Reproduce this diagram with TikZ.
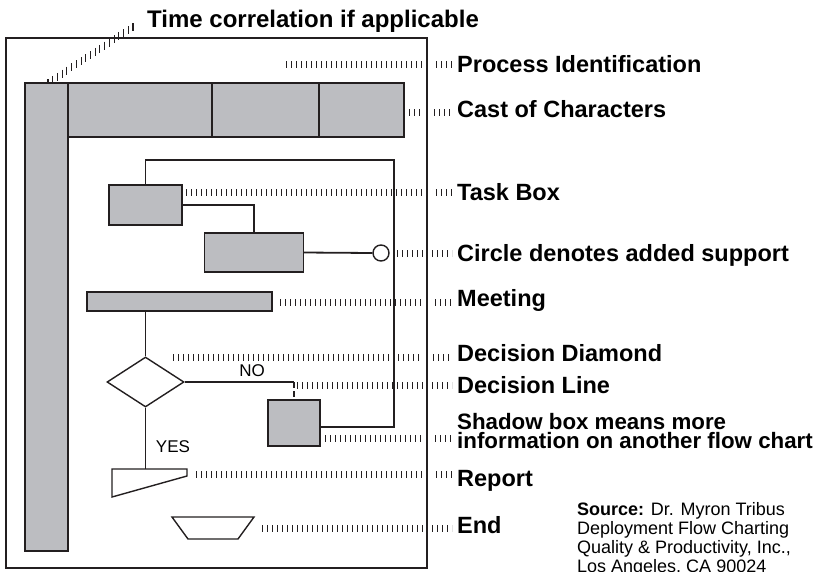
\documentclass[tikz,border=0pt]{standalone}
\usepackage{fontspec}
\setmainfont{Liberation Sans}
\usetikzlibrary{shapes.geometric}
\definecolor{boxgray}{RGB}{188,189,193}
\definecolor{ink}{RGB}{35,31,32}
\begin{document}
\begin{tikzpicture}[x=1pt, y=-1pt,
  graybox/.style={draw=ink, fill=boxgray, line width=1.4pt, inner sep=0pt, outer sep=0pt},
  conn/.style={draw=ink, line width=1.8pt},
  ticks/.style={draw=ink, line width=7pt, dash pattern=on 1.1pt off 3.9pt},
  lbl/.style={anchor=base west, inner sep=0pt, font=\fontsize{23.5}{23.5}\selectfont\bfseries},
  small/.style={inner sep=0pt, font=\fontsize{17}{17}\selectfont}]

\useasboundingbox (0,0) rectangle (817,571);

% Draw the tick leaders to the labels
\draw[ticks] (286,64) -- (452,64);
\draw[ticks] (409,112) -- (452,112);
\draw[ticks] (186,192) -- (452,192);
\draw[ticks] (397,253) -- (452,253);
\draw[ticks] (280,302) -- (452,302);
\draw[ticks] (173,357) -- (452,357);
\draw[ticks] (297,385) -- (452,385);
\draw[ticks] (325,438) -- (452,438);
\draw[ticks] (196,474) -- (452,474);
\draw[ticks] (262,528) -- (452,528);

% Ticks for the time correlation
\foreach \i in {0,...,18}
  \draw[ink, line width=1.1pt] ({48+\i*85/18}, {79-\i*56/18}) -- ++(0,8);

% Draw the frame, with a gap in the ticks
\draw[white, line width=9pt] (427,45) -- (427,560);
\draw[ink, line width=2.7pt] (6,38) rectangle (427,568);

% Time bar and cast of characters
\node[graybox, minimum width=43pt, minimum height=468pt] (bar) at (46.5,317) {};
\node[graybox, minimum width=144pt, minimum height=54pt] (cast1) at (140,110) {};
\node[graybox, minimum width=107pt, minimum height=54pt] (cast2) at (265.5,110) {};
\node[graybox, minimum width=85pt, minimum height=54pt] (cast3) at (361.5,110) {};

% Task boxes, support circle and meeting
\node[graybox, minimum width=73pt, minimum height=40pt] (task1) at (145.5,205) {};
\node[graybox, minimum width=99pt, minimum height=39pt] (task2) at (254,252.5) {};
\node[circle, draw=ink, fill=white, line width=1.4pt, minimum size=16pt, inner sep=0pt] (supp) at (381,253) {};
\node[graybox, minimum width=185pt, minimum height=19pt] (meet) at (179.5,301.5) {};

% Decision diamond and shadow box
\node[diamond, draw=ink, fill=white, line width=1.4pt, minimum width=77pt, minimum height=50pt, inner sep=0pt] (dia) at (145.5,382) {};
\node[graybox, minimum width=52pt, minimum height=46pt] (shadow) at (294,423) {};
\coordinate (loop) at (394,160);

% Report and end
\draw[ink, line width=1.4pt, fill=white] (112,469) -- (187,469) -- (187,476) -- (112,497) -- cycle;
\coordinate (reptop) at (145.5,469);
\draw[ink, line width=1.4pt, fill=white] (172,517) -- (254,517) -- (238,539) -- (188,539) -- cycle;

% Connectors
\draw[conn] (task1.east) -| (task2.north);
\draw[conn] (task2.east) -- (supp.west);
\draw[conn] ([yshift=-4pt]shadow.east) -| (loop) -| (task1.north);
\draw[conn] (meet.south -| dia.north) -- (dia.north);
\draw[conn] (dia.south) -- (reptop);
\draw[conn] (dia.east) -- (dia.east -| shadow.north) coordinate (nocorner);
\draw[conn, dash pattern=on 6pt off 3pt] (nocorner) -- ([yshift=3pt]shadow.north);
\node[small] (nolbl) at (252,371) {NO};
\node[small] (yeslbl) at (173,447) {YES};

% Label the parts
\node[lbl, font=\fontsize{24}{24}\selectfont\bfseries] (timelbl) at (147,27) {Time correlation if applicable};
\node[lbl] (procid) at (457,72) {Process Identification};
\node[lbl] (castlbl) at (457,117) {Cast of Characters};
\node[lbl] (tasklbl) at (457,200) {Task Box};
\node[lbl] (supplbl) at (457,261) {Circle denotes added support};
\node[lbl] (meetlbl) at (457,306) {Meeting};
\node[lbl] (dialbl) at (457,361) {Decision Diamond};
\node[lbl] (declbl) at (457,393) {Decision Line};
\node[lbl, font=\fontsize{22.3}{22.3}\selectfont\bfseries] (shadowlbl) at (457,429) {Shadow box means more};
\node[lbl, font=\fontsize{22.3}{22.3}\selectfont\bfseries] (shadowlbl2) at (457,448) {information on another flow chart};
\node[lbl] (replbl) at (457,486) {Report};
\node[lbl] (endlbl) at (457,533) {End};

% Source note
\node[small, anchor=north west, align=left, font=\fontsize{18}{19}\selectfont] (source) at (577,502)
  {\textbf{Source:} Dr. Myron Tribus\\Deployment Flow Charting\\Quality \& Productivity, Inc.,\\Los Angeles, CA  90024};
\end{tikzpicture}
\end{document}
